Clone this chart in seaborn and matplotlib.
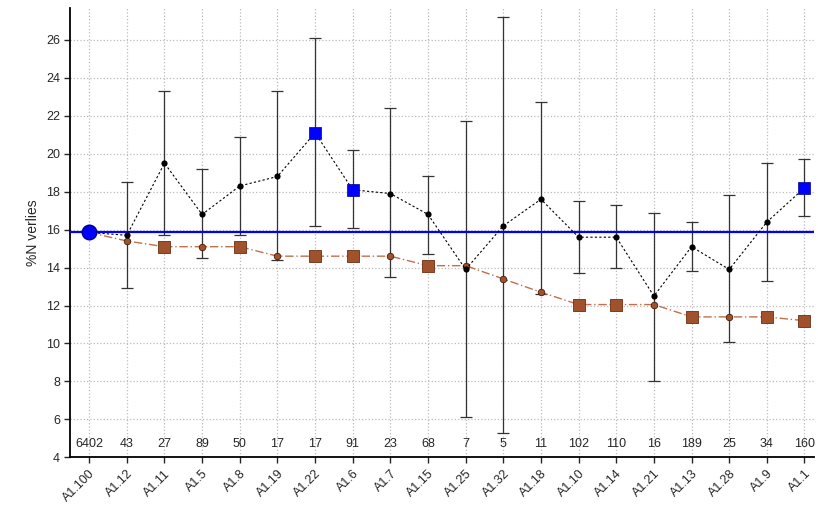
import numpy as np
import pandas as pd
import seaborn as sns
import matplotlib.pyplot as plt

labels = ['A1.100', 'A1.12', 'A1.11', 'A1.5', 'A1.8', 'A1.19', 'A1.22', 'A1.6', 'A1.7', 'A1.15',
          'A1.25', 'A1.32', 'A1.18', 'A1.10', 'A1.14', 'A1.21', 'A1.13', 'A1.28', 'A1.9', 'A1.1']
counts = [6402, 43, 27, 89, 50, 17, 17, 91, 23, 68, 7, 5, 11, 102, 110, 16, 189, 25, 34, 160]
mean = [15.85, 15.7, 19.5, 16.8, 18.3, 18.8, 21.1, 18.1, 17.9, 16.8,
        13.9, 16.2, 17.6, 15.6, 15.6, 12.5, 15.1, 13.9, 16.4, 18.2]
low = [np.nan, 12.9, 15.7, 14.5, 15.7, 14.4, 16.2, 16.1, 13.5, 14.7,
       6.1, 5.3, 12.6, 13.7, 14.0, 8.0, 13.8, 10.1, 13.3, 16.7]
high = [np.nan, 18.5, 23.3, 19.2, 20.9, 23.3, 26.1, 20.2, 22.4, 18.8,
        21.7, 27.2, 22.7, 17.5, 17.3, 16.9, 16.4, 17.8, 19.5, 19.7]
signif = [False, False, False, False, False, False, True, True, False, False,
          False, False, False, False, False, False, False, False, False, True]
cumul = [15.85, 15.4, 15.1, 15.1, 15.1, 14.6, 14.6, 14.6, 14.6, 14.1,
         14.1, 13.4, 12.7, 12.05, 12.05, 12.05, 11.4, 11.4, 11.4, 11.2]
cumul_sq = [False, False, True, False, True, False, True, True, False, True,
            False, False, False, True, True, False, True, False, True, True]
baseline = 15.85

df = pd.DataFrame({'label': labels, 'x': range(len(labels)), 'mean': mean, 'low': low,
                   'high': high, 'sig': signif, 'cum': cumul, 'cumsq': cumul_sq, 'n': counts})

sns.set_style('white')
plt.rcParams['font.family'] = ['Liberation Sans', 'DejaVu Sans']
fig, ax = plt.subplots(figsize=(8.18, 5.07), dpi=100)
fig.subplots_adjust(left=0.086, right=0.995, top=0.985, bottom=0.098)

ax.grid(True, color='#bbbbbb', linestyle=':', linewidth=0.9)
ax.set_axisbelow(True)

e = df.iloc[1:]
ax.errorbar(e['x'], e['mean'], yerr=[e['mean'] - e['low'], e['high'] - e['mean']],
            fmt='none', ecolor='#333333', elinewidth=0.9, capsize=4, capthick=0.9, zorder=2)
ax.axhline(baseline, color='#0000ff', lw=1.6, zorder=3)

sns.lineplot(data=df, x='x', y='cum', ax=ax, color='#c0704a', lw=1, linestyle=(0, (6, 2, 1, 2)),
             zorder=3, legend=False)
sns.scatterplot(data=df[df['cumsq']], x='x', y='cum', ax=ax, marker='s', s=75,
                color='#a0522d', edgecolor='#6b2e10', linewidth=0.6, zorder=4, legend=False)
sns.scatterplot(data=df[~df['cumsq']].iloc[1:], x='x', y='cum', ax=ax, marker='o', s=22,
                color='#a0522d', edgecolor='#4a1a05', linewidth=0.6, zorder=4, legend=False)

sns.lineplot(data=df, x='x', y='mean', ax=ax, color='black', lw=0.8, linestyle=(0, (2, 2)),
             zorder=5, legend=False)
sns.scatterplot(data=df[~df['sig']].iloc[1:], x='x', y='mean', ax=ax, marker='o', s=20,
                color='black', linewidth=0, zorder=6, legend=False)
sns.scatterplot(data=df[df['sig']], x='x', y='mean', ax=ax, marker='s', s=80,
                color='#0000ff', edgecolor='#000088', linewidth=0.5, zorder=6, legend=False)
ax.scatter([0], [baseline], s=110, color='#0000ff', edgecolor='#000088', zorder=7)

for xi, n in zip(df['x'], df['n']):
    ax.text(xi, 4.7, str(n), ha='center', va='center', fontsize=9)

ax.set_xlim(-0.5, 19.25)
ax.set_ylim(4, 27.7)
ax.set_yticks(range(4, 27, 2))
ax.set_yticklabels([f'{v:.2f}' if False else str(v) for v in range(4, 27, 2)], fontsize=9)
ax.set_xticks(df['x'])
ax.set_xticklabels(df['label'], rotation=45, ha='right', rotation_mode='anchor', fontsize=9)
ax.tick_params(axis='both', direction='out', length=4, width=1, bottom=True, left=True)
ax.set_xlabel('')
ax.set_ylabel('%N verlies', fontsize=10)
for s in ['top', 'right']:
    ax.spines[s].set_visible(False)
for s in ['left', 'bottom']:
    ax.spines[s].set_color('black')
    ax.spines[s].set_linewidth(1.3)

plt.savefig('out.png', dpi=100)
